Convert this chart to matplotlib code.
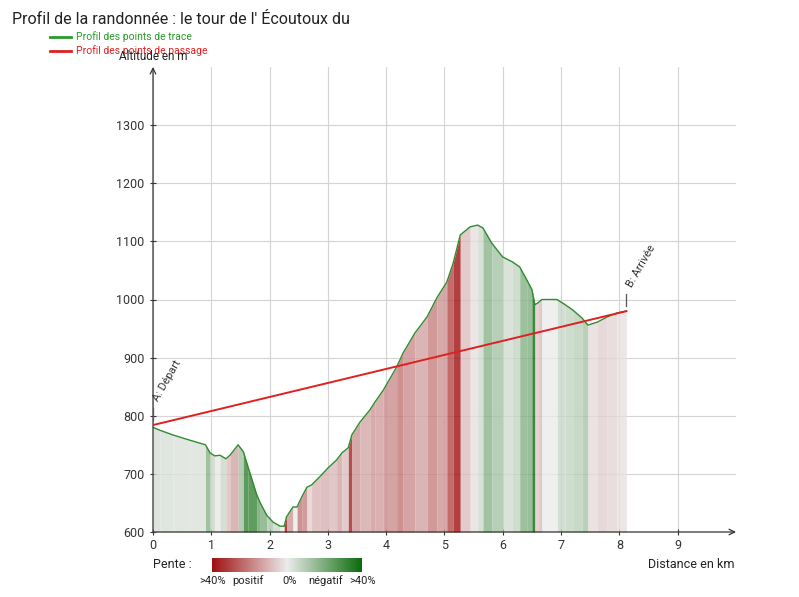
import matplotlib
matplotlib.use("Agg")
import matplotlib.pyplot as plt
from matplotlib.colors import LinearSegmentedColormap, Normalize
import numpy as np

plt.rcParams['font.family'] = ['Roboto', 'DejaVu Sans']

# profil des points de trace (km, m)
dist = [0, 0.12, 0.34, 0.63, 0.9, 0.98, 1.06, 1.15, 1.25, 1.32, 1.46, 1.55, 1.63,
        1.78, 1.84, 1.95, 2.06, 2.18, 2.25, 2.29, 2.4, 2.47, 2.55, 2.64, 2.72, 2.86,
        3.0, 3.15, 3.24, 3.35, 3.41, 3.55, 3.72, 3.81, 3.95, 4.18, 4.29, 4.49, 4.7,
        4.87, 5.04, 5.15, 5.27, 5.44, 5.57, 5.66, 5.81, 6.0, 6.16, 6.29, 6.41, 6.5,
        6.55, 6.6, 6.67, 6.93, 7.07, 7.2, 7.36, 7.46, 7.62, 7.79, 7.96, 8.12]
elev = [780, 775, 767, 758, 750, 736, 731, 732, 726, 732, 750, 738, 712,
        664, 650, 629, 617, 610, 610, 626, 643, 643, 660, 677, 681, 695,
        710, 724, 736, 745, 767, 789, 810, 824, 844, 884, 908, 942, 970,
        1003, 1030, 1063, 1111, 1125, 1128, 1123, 1097, 1073, 1065, 1056, 1034, 1017,
        991, 994, 1000, 1000, 991, 982, 968, 956, 961, 970, 977, 980]

# profil des points de passage
pass_dist = [0, 8.12]
pass_elev = [784, 980]
pass_names = ['A: Départ', 'B: Arrivée']

yticks = [600, 700, 800, 900, 1000, 1100, 1200, 1300]
xticks = list(range(10))

# rouge = montée, vert = descente
cmap = LinearSegmentedColormap.from_list('pente', ['#a01010', '#ececec', '#0b6b0b'])
norm = Normalize(-40, 40)

fig = plt.figure(figsize=(7.99, 5.97), dpi=100)
ax = fig.add_axes([153/799, 1-532/597, 583/799, 465/597])
ax.set_xlim(0, 10)
ax.set_ylim(600, 1400)

# remplissage colore selon la pente
for i in range(len(dist)-1):
    dx = (dist[i+1]-dist[i])*1000
    pente = -(elev[i+1]-elev[i])/dx*100
    ax.fill_between(dist[i:i+2], 600, elev[i:i+2], color=cmap(norm(pente)),
                    alpha=0.8, lw=0, zorder=2)

ax.plot(dist, elev, color='#2e8b2e', lw=1.0, zorder=3)
ax.plot(pass_dist, pass_elev, color='#e02020', lw=1.4, zorder=4)

# marqueurs des points de passage
for d, e, n in zip(pass_dist, pass_elev, pass_names):
    ax.plot([d, d], [e+8, e+30], color='#555555', lw=0.9, zorder=4)
    ax.text(d+0.12, e+38, n, rotation=60, rotation_mode='anchor', ha='left', va='bottom',
            fontsize=8, color='#333333', zorder=5)

ax.set_xticks(xticks)
ax.set_yticks(yticks)
ax.grid(True, color='#d4d4d4', lw=0.8, zorder=0)
ax.tick_params(direction='inout', length=4, width=0.8, colors='#333333', labelsize=9)
ax.tick_params(axis='y', pad=4)
ax.tick_params(axis='x', pad=3)
for s in ax.spines.values():
    s.set_visible(False)
ax.annotate('', xy=(1.0, 0), xytext=(0, 0), xycoords='axes fraction',
            arrowprops=dict(arrowstyle='->', color='#333333', lw=0.9, shrinkA=0, shrinkB=0))
ax.annotate('', xy=(0, 1.0), xytext=(0, 0), xycoords='axes fraction',
            arrowprops=dict(arrowstyle='->', color='#333333', lw=0.9, shrinkA=0, shrinkB=0))

fig.text(12/799, 1-20/597, "Profil de la randonnée : le tour de l' Écoutoux du",
         fontsize=11.5, color='#222222', va='center', ha='left')
fig.lines.append(plt.Line2D([50/799, 71/799], [1-37/597, 1-37/597], color='#2a9a2a', lw=2, transform=fig.transFigure))
fig.lines.append(plt.Line2D([50/799, 71/799], [1-51/597, 1-51/597], color='#e02020', lw=2, transform=fig.transFigure))
fig.text(76/799, 1-37/597, 'Profil des points de trace', fontsize=7.5, color='#2a9a2a', va='center')
fig.text(76/799, 1-51/597, 'Profil des points de passage', fontsize=7.5, color='#e02020', va='center')
fig.text(153/799, 1-56/597, 'Altitude en m', fontsize=8.5, color='#222222', va='center', ha='center')
fig.text(735/799, 1-564/597, 'Distance en km', fontsize=9, color='#222222', va='center', ha='right')

# echelle des pentes
fig.text(153/799, 1-565/597, 'Pente :', fontsize=9, color='#222222', va='center')
cax = fig.add_axes([212/799, 1-572/597, 149/799, 14/597])
cax.imshow(np.linspace(-40, 40, 256)[None, :], cmap=cmap, norm=norm, aspect='auto')
cax.set_axis_off()
for xp, t in zip([213, 248, 290, 326, 363], ['>40%', 'positif', '0%', 'négatif', '>40%']):
    fig.text(xp/799, 1-581/597, t, fontsize=8, color='#222222', va='center', ha='center')

fig.savefig('out.png', dpi=100)
